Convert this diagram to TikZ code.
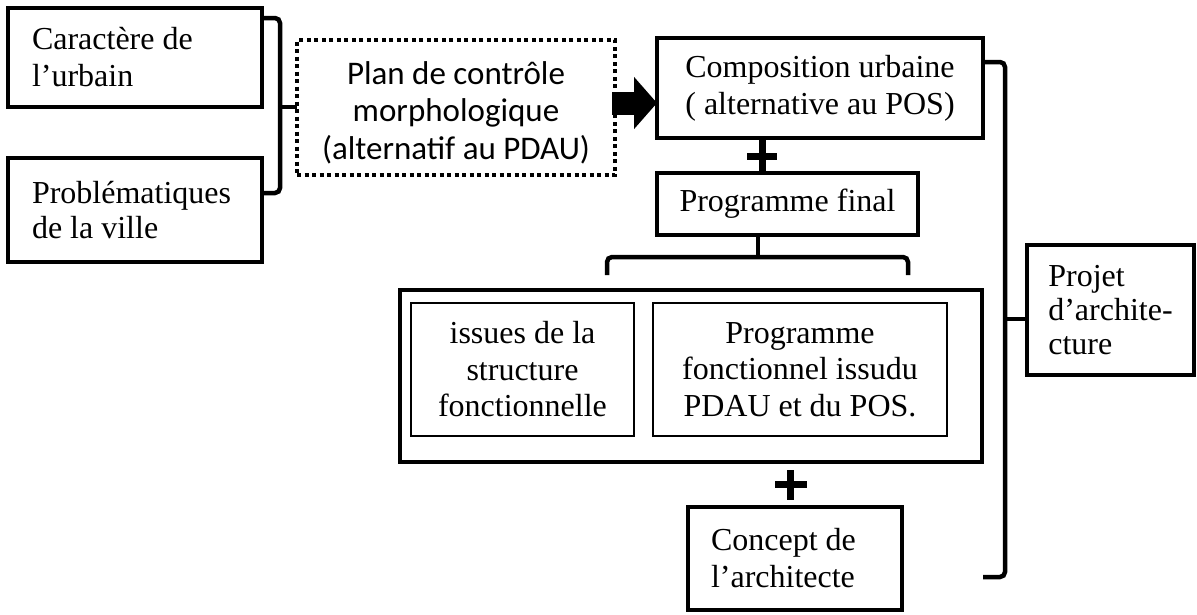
\documentclass[tikz,border=0pt]{standalone}
\usepackage{fontspec}
\setmainfont{Liberation Serif}
\newfontfamily\calib{Carlito}
\usetikzlibrary{arrows.meta,calc}
\begin{document}
\begin{tikzpicture}[x=1pt,y=-1pt,
  box/.style={draw, line width=4.5pt, anchor=north west, inner sep=0pt, outer sep=0pt, font=\fontsize{32}{37}\selectfont},
  thinbox/.style={box, line width=2pt, align=center, font=\fontsize{32}{36.5}\selectfont},
  dotbox/.style={box, line width=4.5pt, dash pattern=on 4pt off 3.5pt, align=center, font=\calib\fontsize{33}{37.5}\selectfont},
  conn/.style={line width=4.5pt, rounded corners=5pt},
  plussign/.style={line width=7pt},
  bigarrow/.style={line width=23pt, -{Triangle[length=23pt,width=51pt]}}]
\useasboundingbox (0,0) rectangle (1197,614);

% left boxes
\node[box, minimum width=254pt, minimum height=99pt, text width=206pt, align=flush left] (b1) at (8,8) {Caractère de\\l’urbain};
\node[box, minimum width=254pt, minimum height=104pt, text width=206pt, align=flush left, font=\fontsize{32}{35}\selectfont] (b2) at (8,158) {Problématiques\\de la ville};

% dotted box
\node[dotbox, minimum width=318pt, minimum height=135pt] (plan) at (297,40) {\rule{0pt}{33pt}Plan de contrôle\\morphologique\\(alternatif au PDAU)};

% composition
\node[box, minimum width=326pt, minimum height=100pt, align=center] (comp) at (657,38) {Composition urbaine\\( alternative au POS)};

% programme final
\node[box, minimum width=261pt, minimum height=62pt] (prog) at (657,173) {Programme final};

% big box and inner boxes
\node[box, minimum width=582pt, minimum height=172pt] (big) at (400,290) {};
\node[thinbox, minimum width=223pt, minimum height=133pt] (in1) at (411,303) {issues de la\\structure\\fonctionnelle};
\node[thinbox, minimum width=294pt, minimum height=133pt] (in2) at (653,303) {Programme\\fonctionnel issudu\\PDAU et du POS.};

% concept
\node[box, minimum width=214pt, minimum height=103pt, text width=168pt, align=flush left] (concept) at (688,507) {Concept de\\l’architecte};

% projet
\node[box, minimum width=167pt, minimum height=130pt, align=flush left, font=\fontsize{32}{34}\selectfont] (projet) at (1027,245) {Projet\\d’archite-\\cture};

% coordinates
\coordinate (ay) at (0,103);
\coordinate (a0) at ($(plan.east)+(-3,0)$);
\coordinate (bl) at (280,107);
\coordinate (pfx) at (762,0);
\coordinate (btip) at (758,257);
\coordinate (bl2) at (607,275);
\coordinate (br2) at (908,275);
\coordinate (pr) at (1005,319);
\coordinate (prt) at (0,62);
\coordinate (prb) at (0,577);

% left brace
\draw[conn] ($(b1.north east)+(0,10)$) -| (bl) |- ($(b2.north east)+(0,35)$);
\draw[conn] (bl) -- (bl -| plan.west);

% big arrow
\draw[bigarrow] (a0 |- ay) -- (comp.west |- ay);

% plus 1
\draw[plussign] (comp.south -| pfx) -- (prog.north -| pfx);
\draw[plussign] (747,156) -- (777,156);

% brace under programme final
\draw[conn] (bl2) |- (btip) -| (br2);
\draw[conn] (prog.south -| btip) -- (btip);

% plus 2
\draw[plussign] (790,470) -- (790,500);
\draw[plussign] (775,484) -- (807,484);

% projet brace
\draw[conn] (comp.east |- prt) -| (pr) |- (comp.east |- prb);
\draw[conn] (pr) -- (projet.west |- pr);
\end{tikzpicture}
\end{document}
